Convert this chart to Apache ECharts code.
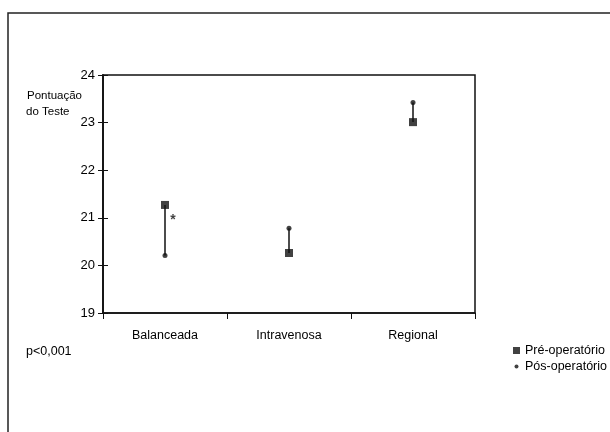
<!DOCTYPE html>
<html>
<head>
<meta charset="utf-8">
<script src="https://cdn.jsdelivr.net/npm/echarts@6/dist/echarts.min.js"></script>
<style>html,body{margin:0;padding:0;background:#fff;}#c{width:610px;height:432px;}</style>
</head>
<body>
<div id="c"></div>
<script>
var categories = ['Balanceada', 'Intravenosa', 'Regional'];
var preOp = [21.27, 20.26, 23.01];
var posOp = [20.21, 20.78, 23.42];
var yTicks = [19, 20, 21, 22, 23, 24];
var seriesNames = ['Pré-operatório', 'Pós-operatório'];

var FONT = '"Liberation Sans", Arial, sans-serif';
var chart = echarts.init(document.getElementById('c'));
var option = {
  animation: false,
  backgroundColor: '#fff',
  textStyle: { fontFamily: FONT },
  grid: { left: 103, top: 75, right: 135, bottom: 119, show: true, borderColor: '#111', borderWidth: 1.5, backgroundColor: 'transparent' },
  xAxis: [{
    type: 'category', data: categories, boundaryGap: true,
    axisLine: { lineStyle: { color: '#111', width: 1.5 } },
    axisTick: { show: true, length: 6, lineStyle: { color: '#111', width: 1 } },
    axisLabel: { color: '#000', fontSize: 12.5, margin: 16, fontFamily: FONT }
  }],
  yAxis: [{
    type: 'value', min: yTicks[0], max: yTicks[yTicks.length - 1], interval: 1,
    splitLine: { show: false },
    axisLine: { show: true, lineStyle: { color: '#111', width: 1.8 } },
    axisTick: { show: true, length: 5, lineStyle: { color: '#111', width: 1 } },
    axisLabel: { color: '#000', fontSize: 13, margin: 8, fontFamily: FONT }
  }, {
    type: 'value', min: yTicks[0], max: yTicks[yTicks.length - 1], interval: 1, position: 'left',
    splitLine: { show: false },
    axisLine: { show: false },
    axisTick: { show: true, inside: true, length: 5, lineStyle: { color: '#111', width: 1 } },
    axisLabel: { show: false }
  }],
  legend: {
    orient: 'vertical', left: 508, top: 339, itemWidth: 7, itemHeight: 7, itemGap: 3,
    textStyle: { color: '#000', fontSize: 12.5, fontFamily: FONT },
    data: [{ name: seriesNames[0], icon: 'rect' }, { name: seriesNames[1], icon: 'path://M0,0 M3.5,1.5 a2,2 0 1,0 0.01,0 M7,7' }]
  },
  graphic: [
    { type: 'rect', shape: { x: 8, y: 13, width: 700, height: 500 }, style: { fill: 'none', stroke: '#222', lineWidth: 1.5 }, silent: true },
    { type: 'text', left: 27, top: 90, style: { text: 'Pontuação', fontSize: 11.5, fill: '#000', fontFamily: FONT } },
    { type: 'text', left: 26, top: 106, style: { text: 'do Teste', fontSize: 11.5, fill: '#000', fontFamily: FONT } },
    { type: 'text', left: 26, top: 345, style: { text: 'p<0,001', fontSize: 12.5, fill: '#000', fontFamily: FONT } }
  ],
  series: [{
    type: 'custom', name: 'link', silent: true,
    renderItem: function (params, api) {
      var a = api.coord([api.value(0), api.value(1)]);
      var b = api.coord([api.value(0), api.value(2)]);
      return { type: 'line', shape: { x1: a[0], y1: a[1], x2: b[0], y2: b[1] }, style: { stroke: '#111', lineWidth: 1.5 } };
    },
    data: categories.map(function (c, i) { return [i, preOp[i], posOp[i]]; }),
    z: 1
  }, {
    type: 'scatter', name: seriesNames[0], symbol: 'rect', symbolSize: 8,
    itemStyle: { color: '#111' }, z: 3,
    data: preOp.map(function (v, i) {
      var d = { value: [i, v] };
      if (i === 0) d.label = { show: true, formatter: '*', position: [12, 19], align: 'center', verticalAlign: 'middle', fontSize: 14, fontWeight: 'bold', color: '#111' };
      return d;
    })
  }, {
    type: 'scatter', name: seriesNames[1], symbol: 'circle', symbolSize: 5,
    itemStyle: { color: '#111' }, z: 3,
    data: posOp.map(function (v, i) { return [i, v]; })
  }]
};
chart.setOption(option);
</script>
</body>
</html>
